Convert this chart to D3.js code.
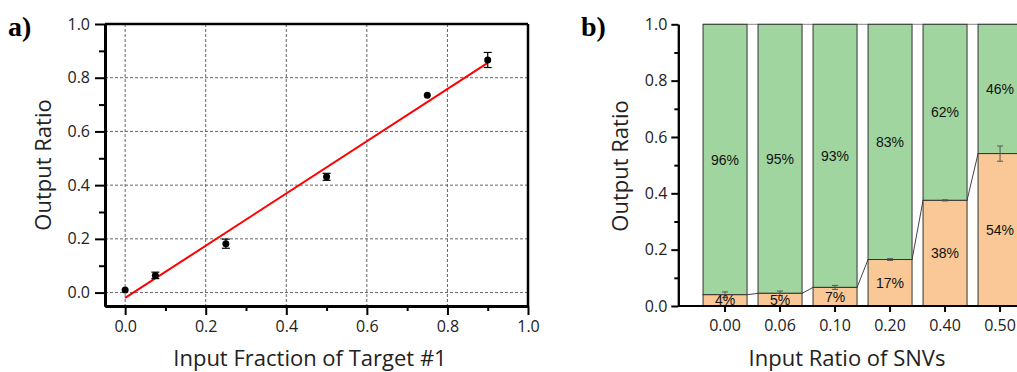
<!DOCTYPE html>
<html>
<head>
<meta charset="utf-8">
<script src="https://cdn.jsdelivr.net/npm/d3@7"></script>
<style>
  body { margin: 0; background: #fff; }
  svg { display: block; font-family: 'Open Sans', sans-serif; }
</style>
</head>
<body>
<svg id="chart" width="1017" height="372"></svg>
<script>
// panel a: output ratio vs input fraction
const inputFractions = [0, 0.075, 0.25, 0.5, 0.75, 0.9];
const outputRatios = [0.01, 0.064, 0.182, 0.431, 0.735, 0.866];
const outputErrors = [0, 0.012, 0.017, 0.013, 0, 0.028];
const fitX = [0, 0.9];
const fitY = [-0.02, 0.855];
const majorTicksA = [0, 0.2, 0.4, 0.6, 0.8, 1.0];
const minorTicksA = [0.1, 0.3, 0.5, 0.7, 0.9];
const gridTicksA = [0, 0.2, 0.4, 0.6, 0.8];

// panel b: stacked output ratio per SNV input ratio
const snvRatios = ['0.00', '0.06', '0.10', '0.20', '0.40', '0.50'];
const targetShare = [0.04, 0.045, 0.066, 0.165, 0.375, 0.541];
const targetErrors = [0.01, 0.008, 0.007, 0.003, 0.002, 0.027];
const targetLabels = ['4%', '5%', '7%', '17%', '38%', '54%'];
const otherLabels = ['96%', '95%', '93%', '83%', '62%', '46%'];
const majorTicksB = [0, 0.2, 0.4, 0.6, 0.8, 1.0];
const minorTicksB = [0.1, 0.3, 0.5, 0.7, 0.9];

const svg = d3.select('#chart');
const fmt = d3.format('.1f');
const titleSize = 22;

drawPanelA();
drawPanelB();

function drawPanelA() {
  const x = d3.scaleLinear().domain([-0.05, 1.0]).range([105, 528]);
  const y = d3.scaleLinear().domain([-0.05, 1.0]).range([306, 24]);
  const g = svg.append('g');

  // grid
  g.selectAll('.vgrid').data(gridTicksA).enter().append('line')
    .attr('x1', d => x(d)).attr('x2', d => x(d))
    .attr('y1', y.range()[1]).attr('y2', y.range()[0])
    .attr('stroke', '#666').attr('stroke-width', 1).attr('stroke-dasharray', '3,2');
  g.selectAll('.hgrid').data(gridTicksA).enter().append('line')
    .attr('y1', d => y(d)).attr('y2', d => y(d))
    .attr('x1', x.range()[0]).attr('x2', x.range()[1])
    .attr('stroke', '#666').attr('stroke-width', 1).attr('stroke-dasharray', '3,2');

  // frame top/right
  g.append('line').attr('x1', 105).attr('x2', 528).attr('y1', 24).attr('y2', 24)
    .attr('stroke', '#000').attr('stroke-width', 2.5);
  g.append('line').attr('x1', 528).attr('x2', 528).attr('y1', 24).attr('y2', 306)
    .attr('stroke', '#000').attr('stroke-width', 2.5);

  drawAxes(g, x, y, 306, 105, majorTicksA, minorTicksA, fmt, 3);

  // fit line
  g.append('path')
    .datum(d3.zip(fitX, fitY))
    .attr('d', d3.line().x(d => x(d[0])).y(d => y(d[1])))
    .attr('stroke', '#f00').attr('stroke-width', 2).attr('fill', 'none');

  const pts = d3.zip(inputFractions, outputRatios, outputErrors);
  const err = g.selectAll('.err').data(pts.filter(d => d[2] > 0)).enter().append('g')
    .attr('stroke', '#000').attr('stroke-width', 1.2);
  err.append('line')
    .attr('x1', d => x(d[0])).attr('x2', d => x(d[0]))
    .attr('y1', d => y(d[1] - d[2])).attr('y2', d => y(d[1] + d[2]));
  [-1, 1].forEach(s => {
    err.append('line')
      .attr('x1', d => x(d[0]) - 4).attr('x2', d => x(d[0]) + 4)
      .attr('y1', d => y(d[1] + s * d[2])).attr('y2', d => y(d[1] + s * d[2]));
  });

  g.selectAll('.pt').data(pts).enter().append('circle')
    .attr('cx', d => x(d[0])).attr('cy', d => y(d[1])).attr('r', 3.5)
    .attr('fill', '#000');

  g.append('text').attr('x', 8).attr('y', 36)
    .attr('font-family', "'Liberation Serif', 'DejaVu Serif', serif")
    .attr('font-weight', 'bold').attr('font-size', 28).text('a)');

  g.append('text')
    .attr('transform', 'translate(51,165) rotate(-90)')
    .attr('text-anchor', 'middle').attr('font-size', titleSize).attr('fill', '#222')
    .text('Output Ratio');
  g.append('text')
    .attr('x', 310).attr('y', 366)
    .attr('text-anchor', 'middle').attr('font-size', titleSize).attr('fill', '#222')
    .text('Input Fraction of Target #1');
}

function drawPanelB() {
  const x = d3.scaleBand().domain(snvRatios).range([678.3, 1046.8])
    .paddingInner(0.2).paddingOuter(0.45);
  const y = d3.scaleLinear().domain([0, 1]).range([306, 24.3]);
  const g = svg.append('g');
  const bw = x.bandwidth();

  // connecting lines between bars
  const pairs = d3.pairs(d3.zip(snvRatios, targetShare));
  g.selectAll('.conn').data(pairs).enter().append('line')
    .attr('x1', d => x(d[0][0]) + bw).attr('y1', d => y(d[0][1]))
    .attr('x2', d => x(d[1][0])).attr('y2', d => y(d[1][1]))
    .attr('stroke', '#444').attr('stroke-width', 1);
  g.append('line')
    .attr('x1', x(snvRatios[0])).attr('x2', 1017)
    .attr('y1', y(1)).attr('y2', y(1))
    .attr('stroke', '#888').attr('stroke-width', 1);

  const bars = d3.zip(snvRatios, targetShare, targetErrors, targetLabels, otherLabels);

  g.selectAll('.other').data(bars).enter().append('rect')
    .attr('x', d => x(d[0])).attr('width', bw)
    .attr('y', y(1)).attr('height', d => y(d[1]) - y(1))
    .attr('fill', '#a1d59f').attr('stroke', '#333').attr('stroke-width', 1);
  g.selectAll('.target').data(bars).enter().append('rect')
    .attr('x', d => x(d[0])).attr('width', bw)
    .attr('y', d => y(d[1])).attr('height', d => y(0) - y(d[1]))
    .attr('fill', '#f9c896').attr('stroke', '#333').attr('stroke-width', 1);

  const err = g.selectAll('.err').data(bars).enter().append('g')
    .attr('stroke', '#555').attr('stroke-width', 1);
  const cx = d => x(d[0]) + bw / 2;
  err.append('line')
    .attr('x1', cx).attr('x2', cx)
    .attr('y1', d => y(d[1] - d[2])).attr('y2', d => y(d[1] + d[2]));
  [-1, 1].forEach(s => {
    err.append('line')
      .attr('x1', d => cx(d) - 3).attr('x2', d => cx(d) + 3)
      .attr('y1', d => y(d[1] + s * d[2])).attr('y2', d => y(d[1] + s * d[2]));
  });

  const labelFont = "'Liberation Sans', Arial, sans-serif";
  g.selectAll('.tlab').data(bars).enter().append('text')
    .attr('x', cx).attr('y', d => (y(d[1]) + y(0)) / 2)
    .attr('text-anchor', 'middle').attr('dominant-baseline', 'central')
    .attr('font-family', labelFont).attr('font-size', 14).attr('fill', '#111')
    .text(d => d[3]);
  g.selectAll('.olab').data(bars).enter().append('text')
    .attr('x', cx).attr('y', d => (y(d[1]) + y(1)) / 2)
    .attr('text-anchor', 'middle').attr('dominant-baseline', 'central')
    .attr('font-family', labelFont).attr('font-size', 14).attr('fill', '#111')
    .text(d => d[4]);

  // y axis
  const yAxis = g.append('g').attr('transform', 'translate(678.3,0)');
  yAxis.call(d3.axisLeft(y).tickValues(majorTicksB).tickFormat(fmt)
    .tickSize(7).tickSizeOuter(0).tickPadding(4));
  yAxis.append('g').call(d3.axisLeft(y).tickValues(minorTicksB).tickFormat('')
    .tickSize(4).tickSizeOuter(0));
  styleAxis(yAxis, 2);

  // x axis
  const xAxis = g.append('g').attr('transform', 'translate(0,306)');
  xAxis.call(d3.axisBottom(x).tickSize(6).tickSizeOuter(0).tickPadding(8));
  xAxis.select('.domain').attr('d', 'M678.3,0H1017');
  styleAxis(xAxis, 2);

  g.append('text').attr('x', 581).attr('y', 36)
    .attr('font-family', "'Liberation Serif', 'DejaVu Serif', serif")
    .attr('font-weight', 'bold').attr('font-size', 28).text('b)');

  g.append('text')
    .attr('transform', 'translate(628,166) rotate(-90)')
    .attr('text-anchor', 'middle').attr('font-size', titleSize).attr('fill', '#222')
    .text('Output Ratio');
  g.append('text')
    .attr('x', 847).attr('y', 366)
    .attr('text-anchor', 'middle').attr('font-size', titleSize).attr('fill', '#222')
    .text('Input Ratio of SNVs');
}

function drawAxes(g, x, y, bottom, left, major, minor, format, width) {
  const xAxis = g.append('g').attr('transform', 'translate(0,' + bottom + ')');
  xAxis.call(d3.axisBottom(x).tickValues(major).tickFormat(format)
    .tickSize(9).tickSizeOuter(0).tickPadding(6));
  xAxis.append('g').call(d3.axisBottom(x).tickValues(minor).tickFormat('')
    .tickSize(5).tickSizeOuter(0));
  styleAxis(xAxis, width);

  const yAxis = g.append('g').attr('transform', 'translate(' + left + ',0)');
  yAxis.call(d3.axisLeft(y).tickValues(major).tickFormat(format)
    .tickSize(10).tickSizeOuter(0).tickPadding(5));
  yAxis.append('g').call(d3.axisLeft(y).tickValues(minor).tickFormat('')
    .tickSize(6).tickSizeOuter(0));
  styleAxis(yAxis, width);
}

function styleAxis(axis, width) {
  axis.selectAll('.domain').attr('stroke', '#000').attr('stroke-width', width);
  axis.selectAll('.tick line').attr('stroke', '#000').attr('stroke-width', 2);
  axis.selectAll('.tick text').attr('font-size', 16).attr('fill', '#222')
    .attr('font-family', "'Open Sans', sans-serif");
}
</script>
</body>
</html>
